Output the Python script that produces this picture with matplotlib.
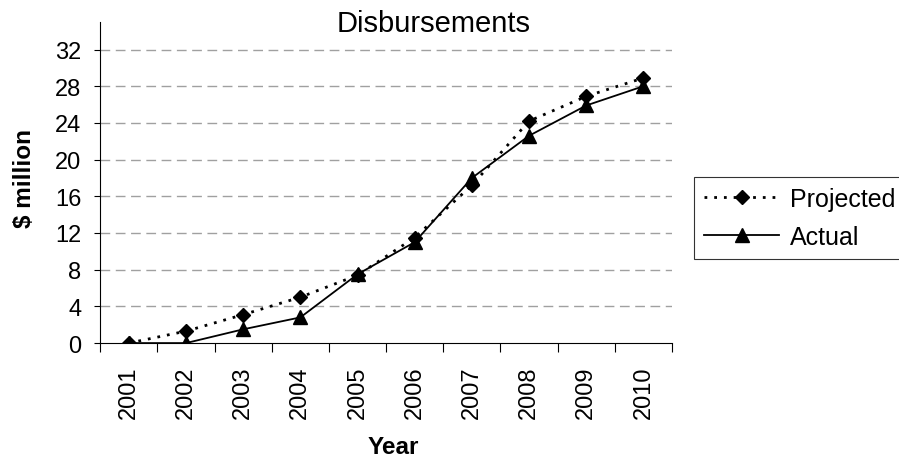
import numpy as np
import matplotlib
matplotlib.use("Agg")
import matplotlib.pyplot as plt

years = ['2001', '2002', '2003', '2004', '2005', '2006', '2007', '2008', '2009', '2010']
projected = [0.0, 1.3, 3.1, 5.0, 7.4, 11.5, 17.2, 24.2, 26.9, 28.9]
actual = [0.0, 0.0, 1.5, 2.8, 7.5, 11.0, 18.0, 22.6, 25.9, 28.0]
y_ticks = [0, 4, 8, 12, 16, 20, 24, 28, 32]

plt.rcParams['font.family'] = ['Liberation Sans', 'DejaVu Sans']

fig = plt.figure(figsize=(8.99, 4.6), dpi=100)
ax = fig.add_axes([0.1115, 0.252, 0.636, 0.698])

x = np.arange(len(years))
ax.plot(x, projected, color='black', linestyle=(0, (1, 2.5)), linewidth=2,
        marker='D', markersize=7.5, label='Projected', zorder=3)
ax.plot(x, actual, color='black', linestyle='-', linewidth=1.3,
        marker='^', markersize=10, label='Actual', zorder=3)

ax.set_xlim(-0.5, len(years) - 0.5)
ax.set_ylim(0, 35)
ax.set_yticks(y_ticks)
ax.tick_params(axis='y', labelsize=17, direction='out', length=4.5, width=0.8, pad=9)

# category axis: labels in the middle, ticks between categories
ax.set_xticks(x)
ax.set_xticklabels(years, rotation=90, fontsize=17)
ax.tick_params(axis='x', which='major', length=0, pad=16)
ax.set_xticks(np.arange(-0.5, len(years)), minor=True)
ax.tick_params(axis='x', which='minor', direction='out', length=6.5, width=0.8)

for yv in y_ticks[1:]:
    ax.axhline(yv, color='#a0a0a0', linestyle=(0, (7, 4)), linewidth=1, zorder=1)

ax.spines['top'].set_visible(False)
ax.spines['right'].set_visible(False)
ax.spines['left'].set_linewidth(0.8)
ax.spines['bottom'].set_linewidth(0.8)

fig.text(0.482, 0.930, 'Disbursements', fontsize=21, ha='center', va='baseline')
fig.text(0.027, 0.612, '$ million', fontsize=17.5, fontweight='bold',
         rotation=90, ha='center', va='center')
fig.text(0.437, 0.028, 'Year', fontsize=17.5, fontweight='bold',
         ha='center', va='center')

leg = ax.legend(loc='upper left', bbox_to_anchor=(0.772, 0.613),
                bbox_transform=fig.transFigure, fontsize=18,
                frameon=True, fancybox=False, edgecolor='black', handlelength=3.0,
                handletextpad=0.45, borderpad=0.4, labelspacing=0.55,
                borderaxespad=0)
leg.get_frame().set_linewidth(0.8)

fig.savefig('out.png', dpi=100)
